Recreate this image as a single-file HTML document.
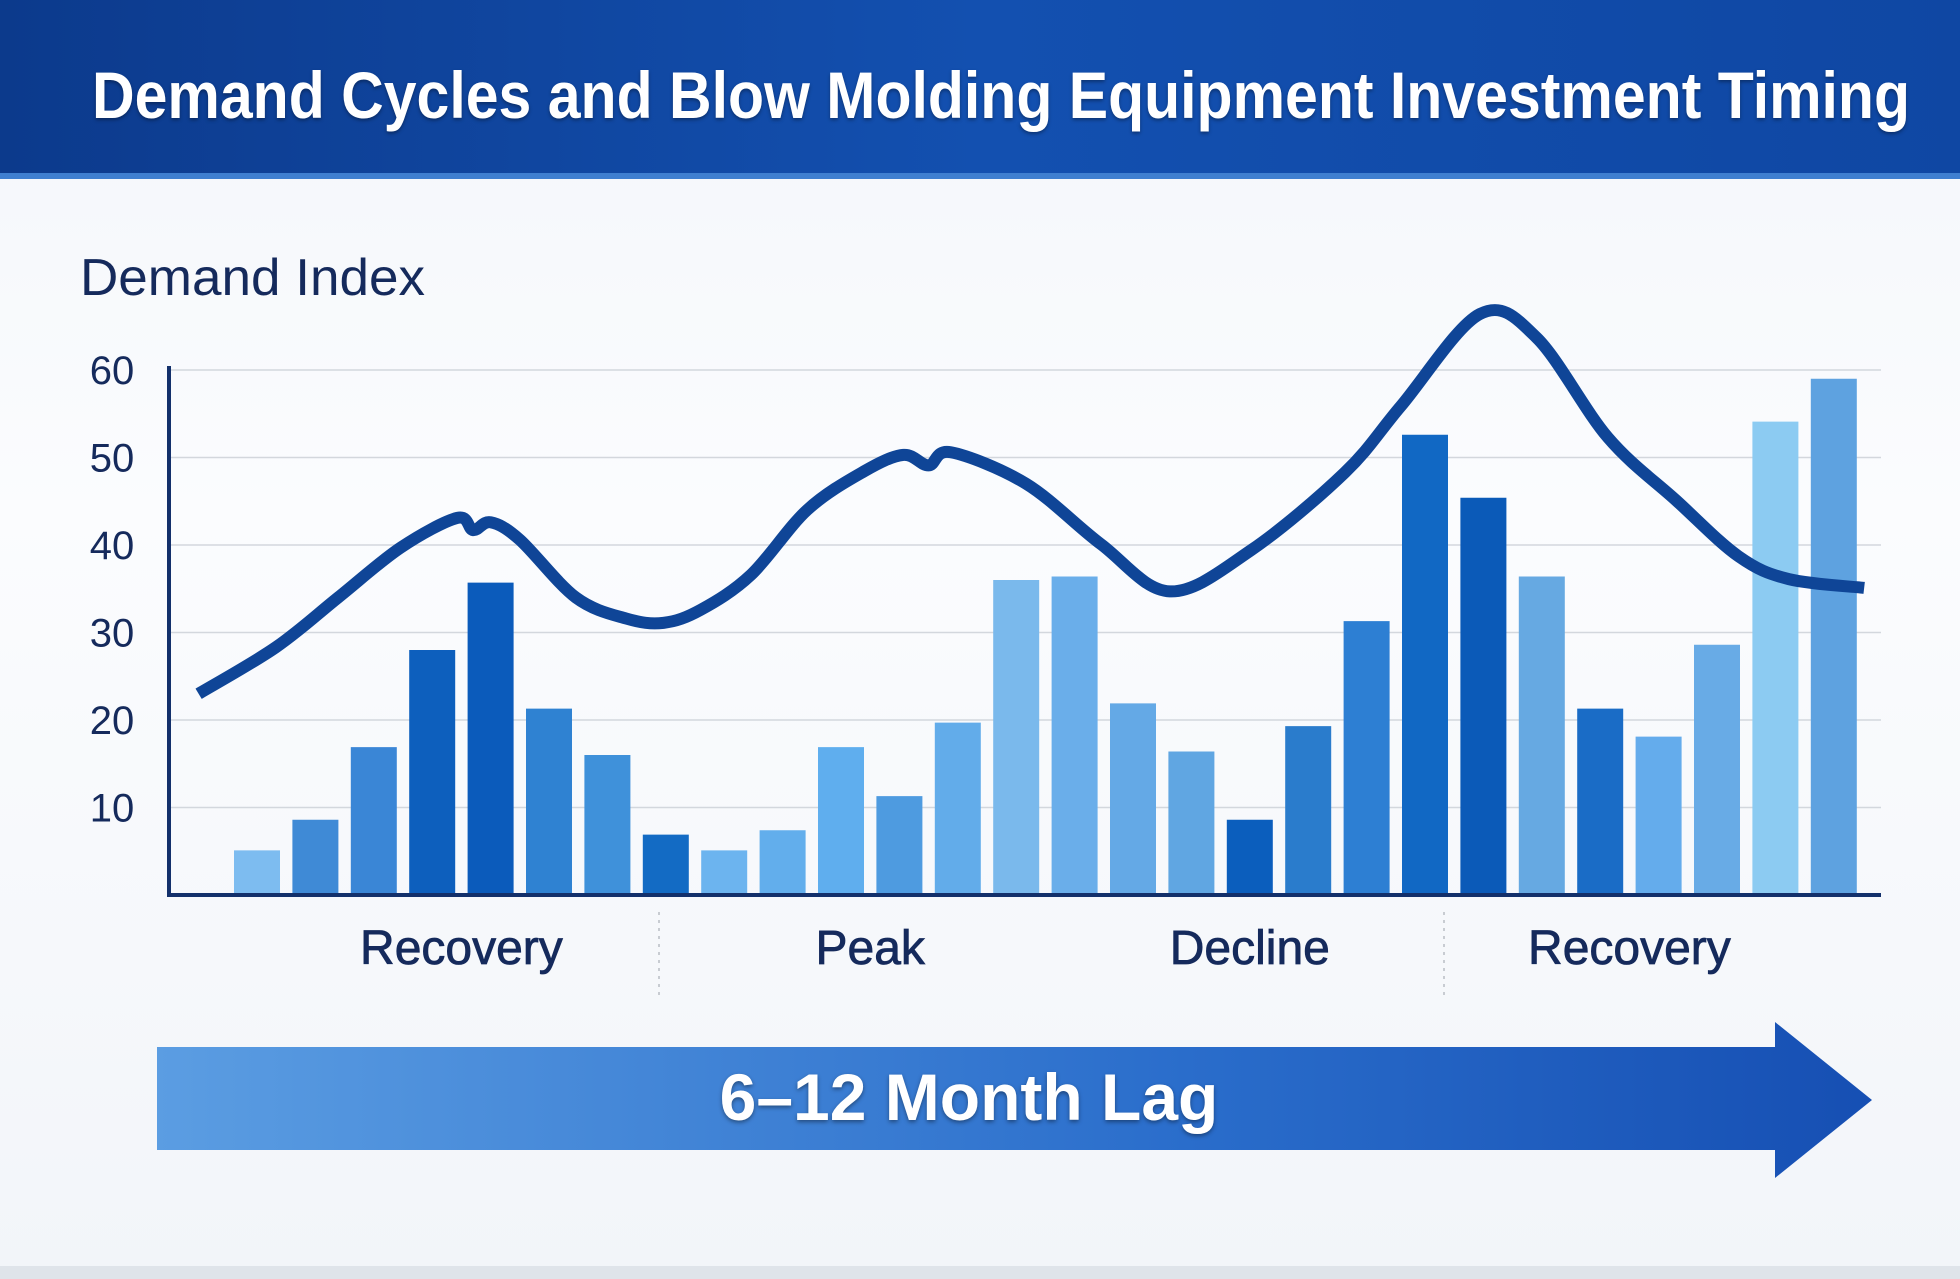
<!DOCTYPE html>
<html><head><meta charset="utf-8">
<style>
html,body{margin:0;padding:0;}
body{width:1960px;height:1279px;overflow:hidden;background:linear-gradient(180deg,#f3f6fa 0%,#fbfcfe 40%,#f2f5f9 100%);font-family:"Liberation Sans",sans-serif;position:relative;}
#title-bar{position:absolute;left:0;top:0;width:1960px;height:179px;background:linear-gradient(90deg,#0c3a8c 0%,#1350b0 50%,#0f47a3 100%);border-bottom:6px solid #3f7fd0;box-sizing:border-box;}
svg{position:absolute;left:0;top:0;}
</style></head>
<body>
<div id="title-bar"></div>
<svg id="chart" width="1960" height="1279">
<defs>
<linearGradient id="arrowGrad" x1="0" x2="1" y1="0" y2="0"><stop offset="0" stop-color="#5b9de2"/><stop offset="0.6" stop-color="#2a6dcb"/><stop offset="1" stop-color="#164fb3"/></linearGradient>
</defs>
<text x="92" y="118" font-size="66" font-weight="bold" fill="#fff" textLength="1818" lengthAdjust="spacingAndGlyphs" style="text-shadow:0 2px 4px rgba(0,0,0,.35)">Demand Cycles and Blow Molding Equipment Investment Timing</text>
<text x="80" y="295" font-size="52" fill="#152a5c" textLength="345" lengthAdjust="spacingAndGlyphs" font-family="Liberation Sans, sans-serif">Demand Index</text>
<g id="grid"></g><g id="bars"></g><g id="line"></g><g id="axes"></g><g id="cats"></g>
<g>
<polygon points="157,1047 1775,1047 1775,1022 1872,1100 1775,1178 1775,1150 157,1150" fill="url(#arrowGrad)"/>
<text x="969" y="1120" text-anchor="middle" font-size="66" font-weight="bold" fill="#fff" style="text-shadow:0 2px 4px rgba(0,0,0,.4)">6–12 Month Lag</text>
</g>
<rect x="0" y="1266" width="1960" height="13" fill="#dfe4ea"/>
</svg>
<script>
const yTicks = [10,20,30,40,50,60];
const barValues = [5.1,8.6,16.9,28,35.7,21.3,16,6.9,5.1,7.4,16.9,11.3,19.7,36,36.4,21.9,16.4,8.6,19.3,31.3,52.6,45.4,36.4,21.3,18.1,28.6,54.1,59];
const lineX = [-1.0,0.32,1.39,2.46,3.43,3.7,4.0,4.5,5.46,6.32,6.96,7.6,8.46,9.42,10.39,11.07,11.5,11.88,13.17,14.45,15.63,17.02,18.63,19.59,20.94,21.91,23.13,24.3,25.37,26.23,27.52];
const lineValues = [23,28.3,34,39.7,43.1,41.7,42.6,40.6,34,31.6,31.1,32.6,36.6,44,48.4,50.3,49.1,50.6,47,40.1,34.7,39.4,48.3,55.9,66.4,63.7,52.3,45.1,38.7,36.1,35.1];
const phases = ["Recovery","Peak","Decline","Recovery"];
const phaseCenters = [3.5,10.5,17,23.5];
const barColors = ["#7dbcf0","#3f8ad6","#3a86d6","#0d5fbd","#0b5bbb","#2f82d2","#3f91da","#136bc4","#6cb4ef","#62aeec","#5faeee","#4e9be0","#62acea","#7ab9ec","#6aaeea","#64a9e6","#60a6e2","#0b5ebd","#2a7ccc","#2d7fd3","#1168c4","#0b5ab8","#66a9e2","#1a6cc6","#64acec","#68abe6","#8ccbf2","#5ea2e0"];
const NS="http://www.w3.org/2000/svg";
const x0=169,x1=1881,yBase=895,yTop=370;
function yScale(v){return yBase-(v/60)*(yBase-yTop);}
function xScale(i){return 257+i*58.4;}
const grid=document.getElementById('grid');
yTicks.forEach(t=>{
 const l=document.createElementNS(NS,'line');
 l.setAttribute('x1',x0);l.setAttribute('x2',x1);l.setAttribute('y1',yScale(t));l.setAttribute('y2',yScale(t));
 l.setAttribute('stroke','#d3d7dd');l.setAttribute('stroke-width','1.5');
 
 
 grid.appendChild(l);
 const tx=document.createElementNS(NS,'text');
 tx.setAttribute('x',112);tx.setAttribute('y',yScale(t)+14);tx.setAttribute('text-anchor','middle');
 tx.setAttribute('font-size','40');tx.setAttribute('fill','#152a5c');tx.textContent=t;
 
 
 grid.appendChild(tx);
});
const bars=document.getElementById('bars');
barValues.forEach((v,i)=>{
 const r=document.createElementNS(NS,'rect');
 r.setAttribute('x',xScale(i)-23);r.setAttribute('width',46);
 r.setAttribute('y',yScale(v));r.setAttribute('height',yBase-yScale(v));
 r.setAttribute('fill',barColors[i%barColors.length]);
 
 
 bars.appendChild(r);
});
const pts=lineX.map((x,i)=>[xScale(x),yScale(lineValues[i])]);
let d='M'+pts[0][0]+','+pts[0][1];
for(let i=0;i<pts.length-1;i++){
 const p0=pts[Math.max(0,i-1)],p1=pts[i],p2=pts[i+1],p3=pts[Math.min(pts.length-1,i+2)];
 const c1=[p1[0]+(p2[0]-p0[0])/6,p1[1]+(p2[1]-p0[1])/6];
 const c2=[p2[0]-(p3[0]-p1[0])/6,p2[1]-(p3[1]-p1[1])/6];
 d+=' C'+c1[0]+','+c1[1]+' '+c2[0]+','+c2[1]+' '+p2[0]+','+p2[1];
}
const path=document.createElementNS(NS,'path');
path.setAttribute('d',d);path.setAttribute('fill','none');path.setAttribute('stroke','#0f4597');
path.setAttribute('stroke-width','12');path.setAttribute('stroke-linejoin','round');


document.getElementById('line').appendChild(path);
const axes=document.getElementById('axes');
const ya=document.createElementNS(NS,'line');
ya.setAttribute('x1',x0);ya.setAttribute('x2',x0);ya.setAttribute('y1',366);ya.setAttribute('y2',yBase+2);
ya.setAttribute('stroke','#13306b');ya.setAttribute('stroke-width','4');


axes.appendChild(ya);
const xa=document.createElementNS(NS,'line');
xa.setAttribute('x1',x0-2);xa.setAttribute('x2',x1);xa.setAttribute('y1',yBase);xa.setAttribute('y2',yBase);
xa.setAttribute('stroke','#13306b');xa.setAttribute('stroke-width','4');


axes.appendChild(xa);
const cats=document.getElementById('cats');
phases.forEach((p,i)=>{
 const t=document.createElementNS(NS,'text');
 t.setAttribute('x',xScale(phaseCenters[i]));t.setAttribute('y',964);t.setAttribute('text-anchor','middle');
 t.setAttribute('font-size','48');t.setAttribute('fill','#152a5c');t.setAttribute('stroke','#152a5c');t.setAttribute('stroke-width','0.8');t.textContent=p;
 
 
 cats.appendChild(t);
});
[659,1444].forEach((x,i)=>{
 const l=document.createElementNS(NS,'line');
 l.setAttribute('x1',x);l.setAttribute('x2',x);l.setAttribute('y1',912);l.setAttribute('y2',1000);
 l.setAttribute('stroke','#c8ccd2');l.setAttribute('stroke-width','2');l.setAttribute('stroke-dasharray','3,5');
 
 
 cats.appendChild(l);
});
</script>
</body></html>
